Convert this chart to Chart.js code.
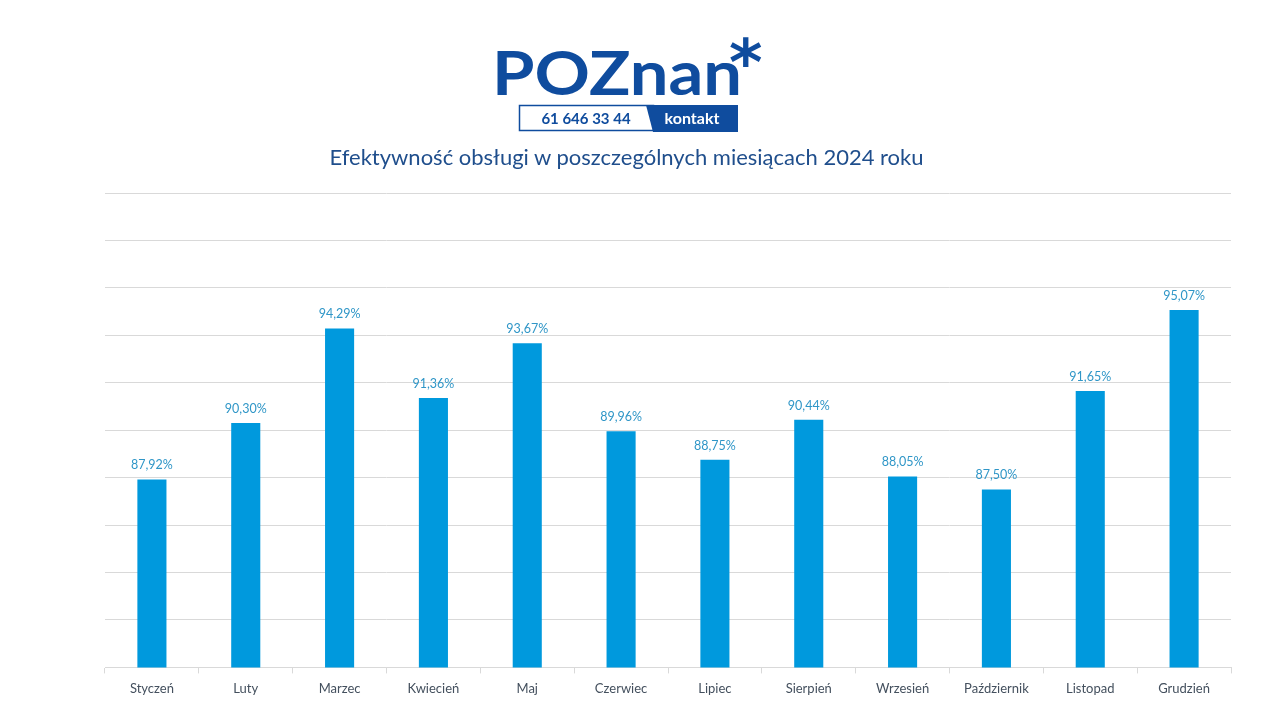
<!DOCTYPE html>
<html><head><meta charset="utf-8">
<script src="https://cdn.jsdelivr.net/npm/chart.js@4/dist/chart.umd.min.js"></script>
<style>
html,body{margin:0;padding:0;background:#fff;}
#wrap{position:relative;width:1280px;height:720px;}
#c{position:absolute;left:0;top:0;}
#logo{position:absolute;left:480px;top:28px;}
#title{position:absolute;left:0;width:1253px;top:143px;text-align:center;font-family:Lato,sans-serif;font-size:22px;color:#1F4E8C;}
</style></head>
<body><div id="wrap">
<canvas id="c" width="1280" height="720"></canvas>
<svg id="logo" width="300" height="110" xmlns="http://www.w3.org/2000/svg">
  <text x="12" y="67" font-family="Lato, sans-serif" font-weight="700" font-size="62" fill="#0F4C9E" textLength="250" lengthAdjust="spacingAndGlyphs">POZnan</text>
  <text x="249" y="57" font-family="DejaVu Sans, sans-serif" font-weight="700" font-size="64" fill="#0F4C9E">*</text>
  <rect x="39.5" y="77.5" width="134" height="25" fill="#fff" stroke="#0F4C9E" stroke-width="1.5"/>
  <polygon points="166,77 258,77 258,104 173,104" fill="#0F4C9E"/>
  <text x="106" y="96" text-anchor="middle" font-family="Lato, sans-serif" font-weight="700" font-size="15" fill="#0F4C9E">61 646 33 44</text>
  <text x="212" y="96" text-anchor="middle" font-family="Lato, sans-serif" font-weight="700" font-size="16" fill="#ffffff">kontakt</text>
</svg>
<div id="title">Efektywność obsługi w poszczególnych miesiącach 2024 roku</div>
</div>
<script>
const months = ['Styczeń','Luty','Marzec','Kwiecień','Maj','Czerwiec','Lipiec','Sierpień','Wrzesień','Październik','Listopad','Grudzień'];
const efficiency = [87.92, 90.30, 94.29, 91.36, 93.67, 89.96, 88.75, 90.44, 88.05, 87.50, 91.65, 95.07];
const yMin = 80, yMax = 100, yStep = 2;

const valueLabels = {
  id: 'valueLabels',
  afterDatasetsDraw(chart) {
    const ctx = chart.ctx;
    const meta = chart.getDatasetMeta(0);
    ctx.save();
    ctx.font = '12.5px Lato, sans-serif';
    ctx.fillStyle = '#2F96C7';
    ctx.textAlign = 'center';
    ctx.textBaseline = 'bottom';
    meta.data.forEach((bar, i) => {
      const v = chart.data.datasets[0].data[i];
      ctx.fillText(v.toFixed(2).replace('.', ',') + '%', bar.x, bar.y - 8);
    });
    ctx.restore();
  }
};

new Chart(document.getElementById('c'), {
  type: 'bar',
  data: {
    labels: months,
    datasets: [{ data: efficiency, backgroundColor: '#0099DD', barPercentage: 0.31, categoryPercentage: 1 }]
  },
  options: {
    responsive: false,
    animation: false,
    layout: { padding: { top: 193, left: 105, right: 49, bottom: 15 } },
    plugins: { legend: { display: false }, tooltip: { enabled: false }, title: { display: false } },
    scales: {
      x: {
        grid: { display: true, offset: true, drawOnChartArea: false, drawTicks: true, tickLength: 6, color: '#D9D9D9' },
        border: { display: true, color: '#D9D9D9' },
        ticks: { color: '#44505E', font: { family: 'Lato, sans-serif', size: 13 }, padding: 8 }
      },
      y: {
        min: yMin, max: yMax,
        ticks: { display: false, stepSize: yStep },
        grid: { color: '#D9D9D9', drawTicks: false },
        border: { display: false }
      }
    }
  },
  plugins: [valueLabels]
});
</script>
</body></html>
